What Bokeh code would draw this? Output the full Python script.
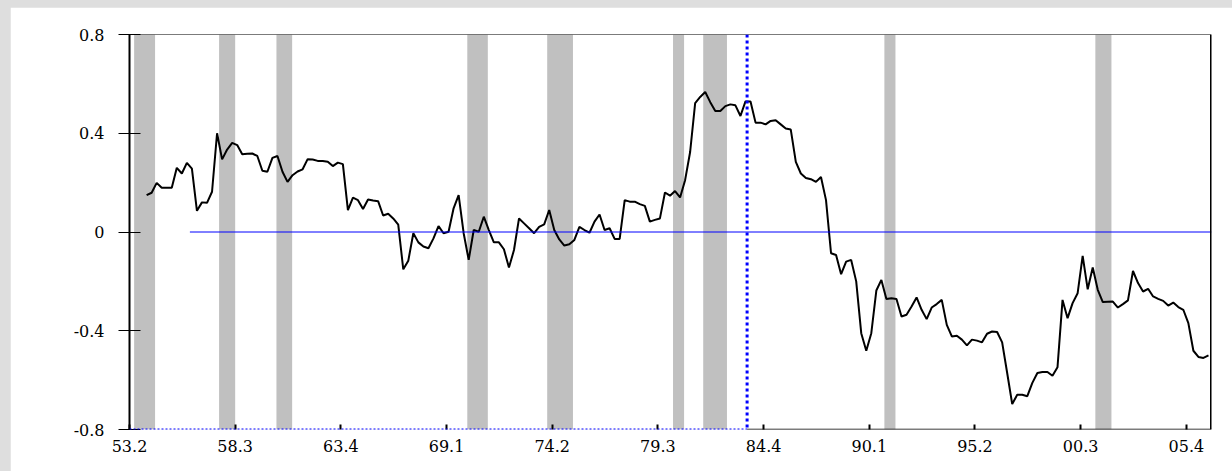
import numpy as np
from bokeh.plotting import figure
from bokeh.models import FixedTicker, Span, Arrow
from bokeh.layouts import column
from bokeh.embed import file_html
from bokeh.resources import INLINE

# Quarterly observations, 1954Q1 through 2006Q4
first_year, first_quarter = 1954, 1
series = [
    0.149, 0.159, 0.199, 0.179, 0.179, 0.179, 0.260, 0.237, 0.280, 0.257,
    0.086, 0.120, 0.118, 0.163, 0.400, 0.294, 0.334, 0.361, 0.352, 0.315,
    0.317, 0.318, 0.308, 0.248, 0.244, 0.300, 0.308, 0.244, 0.203, 0.230,
    0.245, 0.254, 0.295, 0.294, 0.288, 0.288, 0.285, 0.267, 0.281, 0.275,
    0.089, 0.139, 0.129, 0.093, 0.132, 0.128, 0.125, 0.067, 0.074, 0.055,
    0.030, -0.151, -0.116, -0.005, -0.042, -0.059, -0.066, -0.026, 0.024, -0.005,
    0.001, 0.096, 0.149, -0.005, -0.113, 0.008, 0.001, 0.062, 0.008, -0.042,
    -0.042, -0.070, -0.144, -0.073, 0.055, 0.035, 0.015, -0.005, 0.021, 0.031,
    0.089, 0.008, -0.030, -0.055, -0.050, -0.032, 0.021, 0.008, -0.003, 0.042,
    0.071, 0.008, 0.015, -0.028, -0.028, 0.129, 0.123, 0.123, 0.113, 0.106,
    0.042, 0.049, 0.055, 0.160, 0.147, 0.166, 0.140, 0.210, 0.324, 0.522,
    0.547, 0.567, 0.526, 0.490, 0.490, 0.510, 0.517, 0.513, 0.470, 0.529,
    0.529, 0.443, 0.443, 0.436, 0.450, 0.453, 0.436, 0.419, 0.415, 0.284,
    0.237, 0.219, 0.214, 0.203, 0.223, 0.129, -0.086, -0.093, -0.171, -0.120,
    -0.113, -0.200, -0.410, -0.481, -0.410, -0.237, -0.194, -0.271, -0.268, -0.271,
    -0.342, -0.335, -0.302, -0.265, -0.315, -0.353, -0.306, -0.292, -0.275, -0.376,
    -0.423, -0.420, -0.436, -0.459, -0.436, -0.440, -0.447, -0.412, -0.403, -0.405,
    -0.447, -0.571, -0.697, -0.659, -0.659, -0.665, -0.611, -0.571, -0.567, -0.567,
    -0.582, -0.548, -0.275, -0.349, -0.288, -0.248, -0.097, -0.232, -0.144, -0.234,
    -0.284, -0.283, -0.282, -0.306, -0.292, -0.277, -0.158, -0.207, -0.241, -0.230,
    -0.261, -0.271, -0.279, -0.298, -0.286, -0.304, -0.315, -0.369, -0.481, -0.506,
    -0.510, -0.500,
]

# Recession periods (decimal years)
recession_start = [1953.48, 1957.70, 1960.55, 1970.03, 1974.00, 1980.25, 1981.75, 1990.75, 2001.23]
recession_end = [1954.52, 1958.50, 1961.33, 1971.05, 1975.28, 1980.80, 1982.93, 1991.30, 2002.03]

# Sample break and reference line
break_date = 1983.93
zero_line_start = 1956.25
zero_level = 0.0

# Axis labels
x_tick_labels = ["53.2", "58.3", "63.4", "69.1", "74.2", "79.3", "84.4", "90.1", "95.2", "00.3", "05.4"]
y_ticks = [-0.8, -0.4, 0.0, 0.4, 0.8]
y_tick_labels = ["-0.8", "-0.4", "0", "0.4", "0.8"]

x_start, x_end = 1953.25, 2007.0
y_start, y_end = -0.8, 0.8

# observations sit slightly inside their quarter
obs_offset = 0.1
dates = first_year + (first_quarter - 1) / 4 + np.arange(len(series)) / 4 + obs_offset
x_tick_pos = [x_start + 5.25 * i for i in range(len(x_tick_labels))]

p = figure(
    width=1222, height=464,
    x_range=(x_start, x_end), y_range=(y_start, y_end),
    output_backend="svg", toolbar_location=None,
    min_border_left=119, min_border_right=21, min_border_top=27, min_border_bottom=42,
    background_fill_color="white", border_fill_color="white",
)
p.margin = (7, 0, 0, 10)
p.outline_line_color = None
p.xgrid.visible = False
p.ygrid.visible = False

label_font = "DejaVu Serif"
label_size = "16px"

# y axis: ticks crossing the axis line
yax = p.yaxis[0]
yax.ticker = FixedTicker(ticks=y_ticks)
yax.major_label_overrides = {t: s for t, s in zip(y_ticks, y_tick_labels)}
yax.axis_line_width = 2
yax.axis_line_color = "black"
yax.major_tick_in = 11
yax.major_tick_out = 11
yax.major_tick_line_color = "black"
yax.major_tick_line_width = 1
yax.minor_tick_line_color = None
yax.major_label_standoff = 14
yax.major_label_text_font = label_font
yax.major_label_text_font_size = label_size
yax.major_label_text_color = "black"

# x axis: short inward ticks, line drawn separately
xax = p.xaxis[0]
xax.ticker = FixedTicker(ticks=x_tick_pos)
xax.major_label_overrides = {t: s for t, s in zip(x_tick_pos, x_tick_labels)}
xax.axis_line_color = None
xax.major_tick_in = 5
xax.major_tick_out = 0
xax.major_tick_line_color = "black"
xax.major_tick_line_width = 2
xax.minor_tick_line_color = None
xax.major_label_standoff = 10
xax.major_label_text_font = label_font
xax.major_label_text_font_size = label_size
xax.major_label_text_color = "black"

# recession shading
p.quad(left=recession_start, right=recession_end, bottom=y_start, top=y_end,
       fill_color="#C0C0C0", line_color=None)

# the series
p.line(dates, series, line_color="black", line_width=2)

# zero reference line
p.line([zero_line_start, x_end], [zero_level, zero_level], line_color="#0000FF", line_width=1)

# frame edges
p.add_layout(Span(location=y_end, dimension="width", line_color="black", line_width=1))
p.add_layout(Span(location=x_end, dimension="height", line_color="black", line_width=3))
p.add_layout(Arrow(end=None, x_start=break_date, y_start=y_start, x_end=x_end, y_end=y_start,
                   line_color="black", line_width=1.5))
p.add_layout(Arrow(end=None, x_start=x_start, y_start=y_start, x_end=break_date, y_end=y_start,
                   line_color="#0000FF", line_width=2, line_dash="2 2"))

# sample break marker
p.add_layout(Span(location=break_date, dimension="height", line_color="#0000FF",
                  line_width=3, line_dash="3 3"))

page = column(p, styles={"background-color": "#DEDEDE"})

open("out.html", "w").write(file_html(page, INLINE))
